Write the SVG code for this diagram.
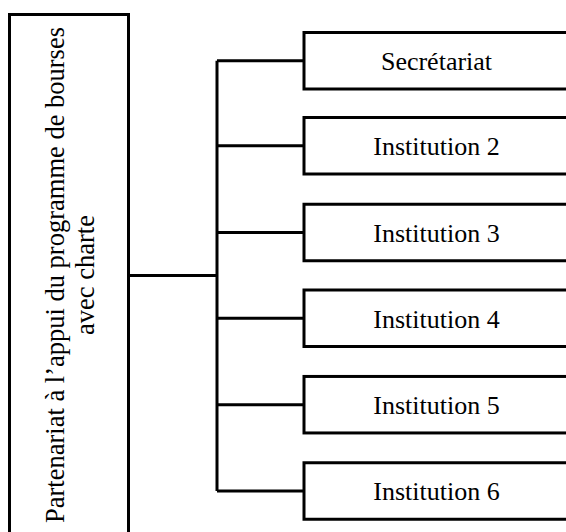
<svg xmlns="http://www.w3.org/2000/svg" width="566" height="532" viewBox="0 0 566 532">
<style>
.box{fill:#fff;stroke:#000;stroke-width:3}
.lbl{font-family:"Liberation Serif","Times New Roman",serif;font-size:26px;fill:#000;text-anchor:middle}
.vlbl{font-size:26.5px}
.conn{fill:none;stroke:#000;stroke-width:3}
</style>
<rect width="566" height="532" fill="#fff"/>
<g id="connectors">
<path class="conn" d="M128.5,275.5H217M217,60.75V491M217,60.75H304M217,145.75H304M217,232.5H304M217,318.3H304M217,404.7H304M217,491H304"/>
</g>
<g id="root">
<rect class="box" x="9.5" y="14.5" width="119" height="540"/>
<text class="lbl vlbl" transform="translate(64,275) rotate(-90)">Partenariat à l’appui du programme de bourses</text>
<text class="lbl vlbl" transform="translate(94,275) rotate(-90)">avec charte</text>
</g>
<g id="n1">
<rect class="box" x="304" y="32.5" width="280" height="56.5"/>
<text class="lbl" x="436.5" y="70">Secrétariat</text>
</g>
<g id="n2">
<rect class="box" x="304" y="117.5" width="280" height="56.5"/>
<text class="lbl" x="436.5" y="155">Institution 2</text>
</g>
<g id="n3">
<rect class="box" x="304" y="204.25" width="280" height="56.5"/>
<text class="lbl" x="436.5" y="241.8">Institution 3</text>
</g>
<g id="n4">
<rect class="box" x="304" y="290" width="280" height="56.5"/>
<text class="lbl" x="436.5" y="327.6">Institution 4</text>
</g>
<g id="n5">
<rect class="box" x="304" y="376.45" width="280" height="56.5"/>
<text class="lbl" x="436.5" y="414">Institution 5</text>
</g>
<g id="n6">
<rect class="box" x="304" y="462.75" width="280" height="56.5"/>
<text class="lbl" x="436.5" y="500.3">Institution 6</text>
</g>
</svg>
